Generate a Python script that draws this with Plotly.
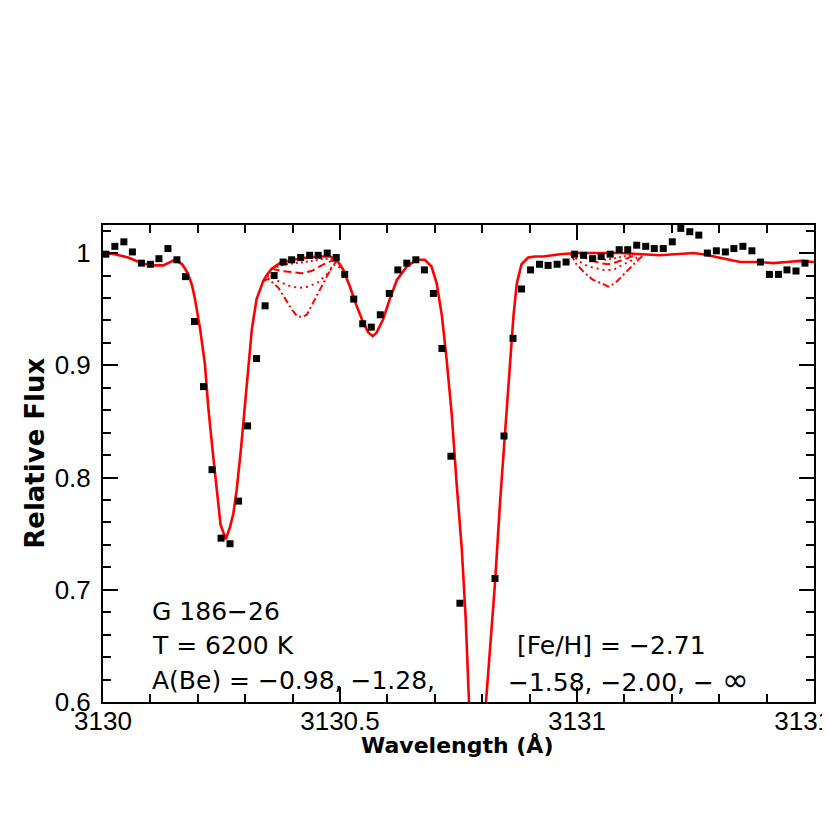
import plotly.graph_objects as go

# observed spectrum of G 186-26 (black squares)
obs_wave = [3130.006, 3130.025, 3130.044, 3130.062, 3130.081, 3130.100, 3130.118, 3130.137,
            3130.156, 3130.174, 3130.193, 3130.212, 3130.230, 3130.249, 3130.268, 3130.286,
            3130.305, 3130.324, 3130.342, 3130.361, 3130.380, 3130.398, 3130.417, 3130.436,
            3130.454, 3130.473, 3130.492, 3130.510, 3130.529, 3130.548, 3130.566, 3130.585,
            3130.604, 3130.622, 3130.641, 3130.660, 3130.678, 3130.697, 3130.715, 3130.734,
            3130.753, 3130.771, 3130.790, 3130.809, 3130.827, 3130.846, 3130.865, 3130.883,
            3130.902, 3130.921, 3130.939, 3130.958, 3130.977, 3130.995, 3131.014, 3131.033,
            3131.051, 3131.070, 3131.089, 3131.107, 3131.126, 3131.145, 3131.163, 3131.182,
            3131.201, 3131.219, 3131.238, 3131.257, 3131.275, 3131.294, 3131.313, 3131.331,
            3131.350, 3131.369, 3131.387, 3131.406, 3131.425, 3131.443, 3131.462, 3131.481]
obs_flux = [0.999, 1.006, 1.010, 1.001, 0.991, 0.990, 0.995, 1.004,
            0.994, 0.979, 0.939, 0.881, 0.807, 0.746, 0.741, 0.779,
            0.846, 0.906, 0.953, 0.980, 0.992, 0.994, 0.996, 0.998,
            0.998, 1.000, 0.996, 0.981, 0.959, 0.937, 0.934, 0.945,
            0.964, 0.985, 0.991, 0.994, 0.985, 0.964, 0.915, 0.819,
            0.688, 0.550, 0.420, 0.520, 0.710, 0.837, 0.924, 0.968,
            0.985, 0.990, 0.989, 0.990, 0.992, 0.999, 0.998, 0.995,
            0.997, 0.999, 1.003, 1.003, 1.007, 1.006, 1.004, 1.004,
            1.010, 1.022, 1.019, 1.016, 1.000, 1.002, 1.001, 1.004,
            1.006, 1.002, 0.992, 0.981, 0.981, 0.985, 0.984, 0.991]

# synthetic spectrum, A(Be) = -inf (solid)
model_wave = [3130.000, 3130.025, 3130.053, 3130.082, 3130.103, 3130.127, 3130.152, 3130.167,
              3130.179, 3130.188, 3130.194, 3130.205, 3130.215, 3130.222, 3130.231, 3130.240,
              3130.248, 3130.259, 3130.268, 3130.275, 3130.282, 3130.291, 3130.300, 3130.307,
              3130.314, 3130.324, 3130.338, 3130.345, 3130.356, 3130.373, 3130.401, 3130.430,
              3130.458, 3130.479, 3130.493, 3130.507, 3130.521, 3130.535, 3130.549, 3130.560,
              3130.569, 3130.577, 3130.591, 3130.605, 3130.620, 3130.641, 3130.662, 3130.679,
              3130.693, 3130.704, 3130.715, 3130.725, 3130.736, 3130.746, 3130.757, 3130.765,
              3130.773, 3130.791, 3130.808, 3130.816, 3130.827, 3130.838, 3130.848, 3130.859,
              3130.866, 3130.873, 3130.883, 3130.897, 3130.911, 3130.929, 3130.964, 3130.999,
              3131.091, 3131.175, 3131.245, 3131.266, 3131.287, 3131.316, 3131.344, 3131.386,
              3131.414, 3131.443, 3131.471, 3131.500]
model_flux = [1.000, 0.999, 0.996, 0.991, 0.989, 0.989, 0.994, 0.990,
              0.982, 0.971, 0.959, 0.932, 0.901, 0.863, 0.825, 0.789,
              0.758, 0.745, 0.756, 0.768, 0.789, 0.825, 0.869, 0.905,
              0.932, 0.959, 0.975, 0.980, 0.986, 0.991, 0.994, 0.996,
              0.997, 0.997, 0.994, 0.985, 0.970, 0.953, 0.938, 0.929,
              0.926, 0.929, 0.941, 0.959, 0.976, 0.988, 0.994, 0.994,
              0.988, 0.973, 0.944, 0.905, 0.855, 0.795, 0.736, 0.676,
              0.600, 0.400, 0.600, 0.647, 0.706, 0.780, 0.840, 0.905,
              0.944, 0.973, 0.990, 0.996, 0.997, 0.997, 0.999, 1.000,
              1.000, 0.998, 1.000, 0.999, 0.997, 0.994, 0.992, 0.992,
              0.991, 0.992, 0.993, 0.992]

# Be II lines, other abundances (None splits the two line windows)
be098_wave = [3130.338, 3130.349, 3130.370, 3130.384, 3130.398, 3130.409, 3130.419, 3130.430,
              3130.444, 3130.458, 3130.472, 3130.482, 3130.493, 3130.507, None,
              3130.987, 3130.999, 3131.017, 3131.034, 3131.052, 3131.066, 3131.080, 3131.094,
              3131.112, 3131.129, 3131.143]
be098_flux = [0.975, 0.977, 0.969, 0.959, 0.950, 0.944, 0.943, 0.945,
              0.956, 0.968, 0.978, 0.987, 0.993, 0.985, None,
              0.999, 0.990, 0.982, 0.976, 0.973, 0.970, 0.973, 0.979,
              0.987, 0.994, 0.999]

be128_wave = [3130.338, 3130.349, 3130.370, 3130.391, 3130.412, 3130.433, 3130.454, 3130.472,
              3130.489, 3130.507, None,
              3130.987, 3131.013, 3131.034, 3131.056, 3131.077, 3131.098, 3131.119, 3131.137]
be128_flux = [0.975, 0.980, 0.975, 0.971, 0.969, 0.970, 0.974, 0.981,
              0.990, 0.985, None,
              0.999, 0.990, 0.987, 0.985, 0.985, 0.990, 0.994, 0.999]

be158_wave = [3130.356, 3130.377, 3130.398, 3130.419, 3130.440, 3130.461, 3130.482, 3130.496,
              3130.507, None,
              3131.006, 3131.027, 3131.049, 3131.066, 3131.084, 3131.101, 3131.122]
be158_flux = [0.986, 0.984, 0.983, 0.982, 0.984, 0.989, 0.993, 0.993,
              0.985, None,
              0.998, 0.994, 0.991, 0.990, 0.992, 0.995, 0.998]

be200_wave = [3130.356, 3130.384, 3130.426, 3130.468, 3130.493, None,
              3131.006, 3131.027, 3131.063, 3131.098, 3131.122]
be200_flux = [0.986, 0.990, 0.992, 0.995, 0.994, None,
              0.999, 0.996, 0.994, 0.997, 0.999]

x_ticks = [3130, 3130.5, 3131, 3131.5]
x_ticktext = ['3130', '3130.5', '3131', '3131.5']
y_ticks = [0.6, 0.7, 0.8, 0.9, 1.0]
y_ticktext = ['0.6', '0.7', '0.8', '0.9', '1']

RED = '#ff0000'
FONT = 'Liberation Sans, Arial'
TFONT = 'DejaVu Sans, Liberation Sans'

fig = go.Figure()

fig.add_trace(go.Scatter(x=be098_wave, y=be098_flux, mode='lines',
                         line=dict(color=RED, width=2, dash='7px,3px,2px,3px')))
fig.add_trace(go.Scatter(x=be128_wave, y=be128_flux, mode='lines',
                         line=dict(color=RED, width=2, dash='2px,4px')))
fig.add_trace(go.Scatter(x=be158_wave, y=be158_flux, mode='lines',
                         line=dict(color=RED, width=2, dash='8px,4px')))
fig.add_trace(go.Scatter(x=be200_wave, y=be200_flux, mode='lines',
                         line=dict(color=RED, width=2, dash='2px,3px')))
fig.add_trace(go.Scatter(x=model_wave, y=model_flux, mode='lines',
                         line=dict(color=RED, width=2.6)))
fig.add_trace(go.Scatter(x=obs_wave, y=obs_flux, mode='markers',
                         marker=dict(symbol='square', size=7, color='black')))

fig.update_xaxes(
    range=[3130, 3131.5], tickvals=x_ticks, ticktext=x_ticktext,
    ticks='inside', ticklen=15, tickwidth=2, tickcolor='black',
    minor=dict(ticks='inside', ticklen=8, tickwidth=1.5, tickcolor='black', tick0=3130, dtick=0.1),
    showline=True, linewidth=2, linecolor='black', mirror='allticks',
    showgrid=False, zeroline=False, ticklabeloverflow='allow', automargin=False,
    ticklabelstandoff=-5,
    tickfont=dict(family=FONT, size=26, color='black'),
)
fig.update_yaxes(
    range=[0.6, 1.025], tickvals=y_ticks, ticktext=y_ticktext,
    ticks='inside', ticklen=15, tickwidth=2, tickcolor='black',
    minor=dict(ticks='inside', ticklen=8, tickwidth=1.5, tickcolor='black', tick0=0.6, dtick=0.02),
    showline=True, linewidth=2, linecolor='black', mirror='allticks',
    showgrid=False, zeroline=False, automargin=False, ticklabelstandoff=5,
    tickfont=dict(family=FONT, size=26, color='black'),
)

labels = [
    (0.066, 0.19, 'G 186\u221226'),
    (0.066, 0.118, 'T = 6200 K'),
    (0.066, 0.046, 'A(Be) = \u22120.98, \u22121.28,'),
    (0.579, 0.118, '[Fe/H] = \u22122.71'),
    (0.567, 0.046, '\u22121.58, \u22122.00, \u2212 <span style="font-size:32px">\u221e</span>'),
]
for lx, ly, txt in labels:
    fig.add_annotation(x=lx, y=ly, xref='paper', yref='paper', text=txt, showarrow=False,
                       xanchor='left', yanchor='middle',
                       font=dict(family=TFONT, size=25, color='black'))

fig.add_annotation(x=0.498, y=-0.092, xref='paper', yref='paper', text='<b>Wavelength (Å)</b>',
                   showarrow=False, xanchor='center', yanchor='middle',
                   font=dict(family=TFONT, size=22, color='black'))
fig.add_annotation(x=-0.096, y=0.522, xref='paper', yref='paper', text='<b>Relative Flux</b>',
                   showarrow=False, textangle=-90, xanchor='center', yanchor='middle',
                   font=dict(family=TFONT, size=26, color='black'))

# page body adds ~8px offset, so margins are shifted to keep the frame in place
fig.update_layout(
    width=830, height=830,
    margin=dict(l=95, r=24, t=217, b=136),
    paper_bgcolor='white', plot_bgcolor='white',
    showlegend=False,
)

fig.write_html("out.html")
